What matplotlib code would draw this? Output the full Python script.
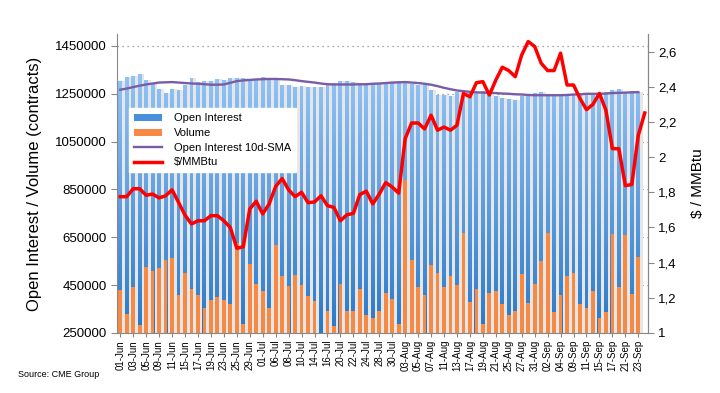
import numpy as np
import pandas as pd
import matplotlib
matplotlib.use("Agg")
import matplotlib.pyplot as plt
from matplotlib.path import Path
from matplotlib.colors import LinearSegmentedColormap
from matplotlib.ticker import FuncFormatter
from matplotlib.lines import Line2D
from matplotlib.patches import Patch

plt.rcParams['font.family'] = ['Liberation Sans', 'DejaVu Sans']

# --- DATA ---
dates = pd.bdate_range('2020-06-01', '2020-09-24', freq='C',
                       holidays=['2020-07-03', '2020-09-07'])
date_labels = [d.strftime('%d-%b') for d in dates]

open_interest = [
    1303000, 1320000, 1324000, 1331000, 1306000, 1292000, 1272000, 1255000, 1268000, 1264000,
    1285000, 1315000, 1298000, 1302000, 1302000, 1310000, 1309000, 1315000, 1315000, 1315000,
    1312000, 1312000, 1319000, 1315000, 1310000, 1285000, 1285000, 1278000, 1281000, 1278000,
    1278000, 1278000, 1285000, 1296000, 1302000, 1305000, 1301000, 1285000, 1287000, 1289000,
    1289000, 1301000, 1299000, 1305000, 1296000, 1292000, 1287000, 1287000, 1264000, 1247000,
    1243000, 1239000, 1257000, 1253000, 1254000, 1258000, 1260000, 1250000, 1240000, 1232000,
    1228000, 1222000, 1240000, 1245000, 1255000, 1258000, 1249000, 1249000, 1249000, 1249000,
    1249000, 1249000, 1252000, 1251000, 1253000, 1256000, 1264000, 1272000, 1256000, 1262000,
    1259000,
]

volume = [
    430000, 329000, 442000, 283000, 526000, 510000, 521000, 555000, 563000, 409000,
    500000, 434000, 409000, 356000, 388000, 400000, 388000, 371000, 625000, 288000,
    538000, 455000, 425000, 356000, 618000, 488000, 446000, 492000, 451000, 405000,
    384000, 235000, 342000, 279000, 455000, 342000, 342000, 434000, 325000, 313000,
    342000, 417000, 392000, 288000, 890000, 555000, 442000, 409000, 534000, 500000,
    442000, 488000, 451000, 668000, 380000, 434000, 288000, 417000, 426000, 371000,
    325000, 342000, 497000, 376000, 455000, 551000, 668000, 338000, 409000, 488000,
    500000, 371000, 356000, 426000, 313000, 338000, 664000, 442000, 660000, 413000,
    568000,
]

oi_sma10 = [
    1267000, 1272000, 1278000, 1284000, 1289000, 1293000, 1297000, 1298000, 1299000, 1297000,
    1295000, 1293000, 1292000, 1290000, 1288000, 1288000, 1289000, 1296000, 1303000, 1306000,
    1308000, 1310000, 1311000, 1312000, 1312000, 1311000, 1310000, 1307000, 1303000, 1300000,
    1297000, 1293000, 1290000, 1289000, 1289000, 1289000, 1289000, 1290000, 1290000, 1292000,
    1293000, 1295000, 1297000, 1298000, 1299000, 1297000, 1295000, 1292000, 1288000, 1282000,
    1275000, 1269000, 1264000, 1261000, 1258000, 1256000, 1255000, 1254000, 1253000, 1251000,
    1250000, 1248000, 1247000, 1245000, 1244000, 1244000, 1244000, 1244000, 1244000, 1245000,
    1247000, 1248000, 1250000, 1250000, 1250000, 1251000, 1253000, 1254000, 1255000, 1256000,
    1257000,
]

price = [
    1.775, 1.775, 1.82, 1.82, 1.783, 1.79, 1.768, 1.78, 1.814, 1.743,
    1.67, 1.62, 1.638, 1.638, 1.667, 1.667, 1.638, 1.60, 1.482, 1.49,
    1.705, 1.749, 1.677, 1.734, 1.833, 1.878, 1.814, 1.775, 1.80, 1.741,
    1.745, 1.78, 1.724, 1.714, 1.638, 1.672, 1.68, 1.787, 1.806, 1.734,
    1.79, 1.855, 1.83, 1.795, 2.105, 2.194, 2.194, 2.16, 2.238, 2.153,
    2.171, 2.153, 2.181, 2.362, 2.343, 2.423, 2.429, 2.353, 2.438, 2.511,
    2.492, 2.457, 2.581, 2.657, 2.629, 2.534, 2.492, 2.492, 2.591, 2.41,
    2.41, 2.333, 2.27, 2.30, 2.362, 2.267, 2.048, 2.048, 1.838, 1.844,
    2.124, 2.251,
]

left_ticks = [250000, 450000, 650000, 850000, 1050000, 1250000, 1450000]
right_ticks = [1, 1.2, 1.4, 1.6, 1.8, 2, 2.2, 2.4, 2.6]

# --- PLOT ---
fig = plt.figure(figsize=(7.2, 3.93), dpi=100)
ax = fig.add_axes([0.1625, 0.1527, 0.7375, 0.7608])

x = np.arange(len(dates))
xb = x[:len(open_interest)]

# light grey "shadow" columns between bars
ax.bar(xb + 0.5, open_interest, width=0.4, color='#e6e6e6', zorder=1)
oi_bars = ax.bar(xb, open_interest, width=0.6, color='#5b9be0', zorder=1.5)

# vertical gradient on the open interest bars
grad_cmap = LinearSegmentedColormap.from_list('oi', ['#2a78c8', '#92c4f6'])
grad = np.linspace(0, 1, 256).reshape(-1, 1)
im = ax.imshow(grad, cmap=grad_cmap, origin='lower', aspect='auto',
               extent=(-0.5, len(dates) - 0.5, 250000, max(open_interest)),
               zorder=1.6, interpolation='bilinear')
clip = Path.make_compound_path(*[b.get_path().transformed(b.get_patch_transform())
                                 for b in oi_bars])
im.set_clip_path(clip, ax.transData)

ax.bar(xb, volume, width=0.58, color='#f68a45', zorder=2)
ax.plot(xb, oi_sma10, color='#7a5ca6', lw=1.7, zorder=3)

ax.set_xlim(-0.5, len(dates) - 0.5)
ax.set_ylim(250000, 1500000)
ax.set_yticks(left_ticks)
ax.yaxis.set_major_formatter(FuncFormatter(lambda v, p: f"{int(v)}"))
ax.set_xticks(x[::2])
ax.set_xticklabels(date_labels[::2], rotation=90, fontsize=7)
ax.tick_params(axis='y', labelsize=9.5, length=4, color='#888888')
ax.tick_params(axis='x', length=3, pad=2, color='#888888')
ax.grid(axis='y', color='#8c8c8c', linestyle=(0, (1, 3)), lw=0.9)
ax.set_axisbelow(True)
ax.set_ylabel("Open Interest / Volume (contracts)", fontsize=12, labelpad=9)
ax.spines['top'].set_visible(False)
for s in ['left', 'bottom', 'right']:
    ax.spines[s].set_color('#888888')

ax2 = ax.twinx()
ax2.plot(x, price, color='#ff0000', lw=2.5, zorder=4)
ax2.set_ylim(1, 2.7)
ax2.set_yticks(right_ticks)
ax2.yaxis.set_major_formatter(FuncFormatter(lambda v, p: f"{v:g}".replace('.', ',')))
ax2.tick_params(axis='y', labelsize=9.5, length=4, color='#888888')
ax2.set_ylabel("$ / MMBtu", fontsize=11, labelpad=10)
ax2.spines['top'].set_visible(False)
ax2.spines['right'].set_color('#888888')
ax2.spines['left'].set_visible(False)
ax2.spines['bottom'].set_visible(False)

handles = [
    Patch(facecolor='#4a8fd9', edgecolor='none'),
    Patch(facecolor='#f68a45', edgecolor='none'),
    Line2D([], [], color='#7a5ca6', lw=1.7),
    Line2D([], [], color='#ff0000', lw=2.5),
]
labels = ["Open Interest", "Volume", "Open Interest 10d-SMA", "$/MMBtu"]
leg = ax2.legend(handles, labels, loc='upper left', bbox_to_anchor=(0.012, 0.77),
                 frameon=True, fancybox=False, framealpha=1, edgecolor='white',
                 fontsize=8, handlelength=2.5, handleheight=0.6,
                 handletextpad=1.1, labelspacing=0.42, borderpad=0.45)
leg.set_zorder(10)

fig.text(0.025, 0.04, "Source: CME Group", fontsize=6.5)

fig.savefig("out.png", dpi=100)
